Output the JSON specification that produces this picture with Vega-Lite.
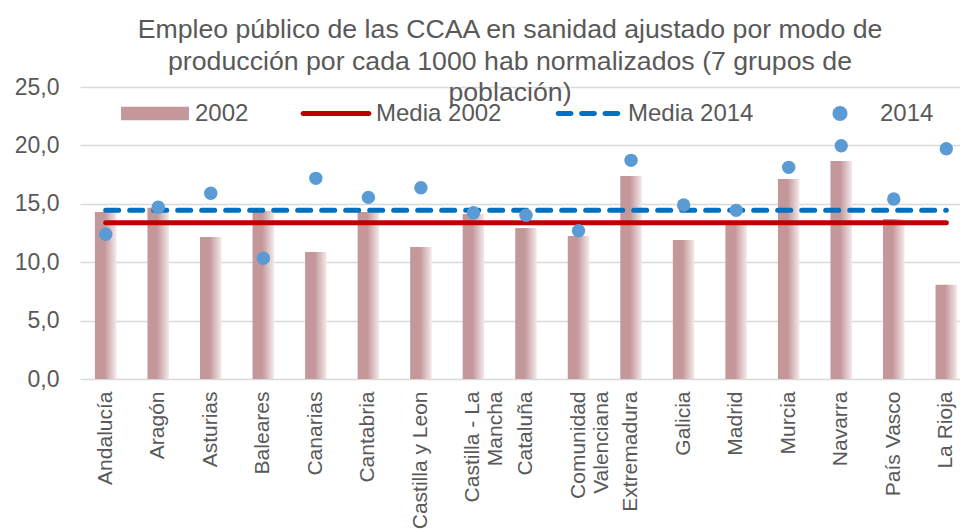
{
  "$schema": "https://vega.github.io/schema/vega-lite/v6.json",
  "autosize": {"type": "none"},
  "width": 880,
  "height": 292,
  "padding": {"left": 80, "top": 87, "right": 0, "bottom": 150},
  "background": "white",
  "config": {
    "view": {"stroke": null},
    "font": "Liberation Sans",
    "locale": {"number": {"decimal": ",", "thousands": ".", "grouping": [3], "currency": ["", " €"]}}
  },
  "title": {
    "text": ["Empleo público de las CCAA en sanidad ajustado por modo de", "producción por cada 1000 hab normalizados (7 grupos de", "población)"],
    "fontSize": 26.7,
    "fontWeight": "normal",
    "color": "#595959",
    "font": "Liberation Sans",
    "anchor": "middle",
    "lineHeight": 31.5,
    "baseline": "top",
    "offset": -31,
    "dx": -10
  },
  "data": {
    "values": [
      {"ccaa": "Andalucía", "v2002": 14.3, "v2014": 12.4, "m2002": 13.38, "m2014": 14.44},
      {"ccaa": "Aragón", "v2002": 14.67, "v2014": 14.7, "m2002": 13.38, "m2014": 14.44},
      {"ccaa": "Asturias", "v2002": 12.16, "v2014": 15.9, "m2002": 13.38, "m2014": 14.44},
      {"ccaa": "Baleares", "v2002": 14.38, "v2014": 10.34, "m2002": 13.38, "m2014": 14.44},
      {"ccaa": "Canarias", "v2002": 10.88, "v2014": 17.18, "m2002": 13.38, "m2014": 14.44},
      {"ccaa": "Cantabria", "v2002": 14.3, "v2014": 15.55, "m2002": 13.38, "m2014": 14.44},
      {"ccaa": "Castilla y Leon", "v2002": 11.31, "v2014": 16.38, "m2002": 13.38, "m2014": 14.44},
      {"ccaa": "Castilla - La Mancha", "v2002": 14.13, "v2014": 14.24, "m2002": 13.38, "m2014": 14.44},
      {"ccaa": "Cataluña", "v2002": 12.93, "v2014": 14.02, "m2002": 13.38, "m2014": 14.44},
      {"ccaa": "Comunidad Valenciana", "v2002": 12.25, "v2014": 12.7, "m2002": 13.38, "m2014": 14.44},
      {"ccaa": "Extremadura", "v2002": 17.38, "v2014": 18.72, "m2002": 13.38, "m2014": 14.44},
      {"ccaa": "Galicia", "v2002": 11.9, "v2014": 14.9, "m2002": 13.38, "m2014": 14.44},
      {"ccaa": "Madrid", "v2002": 13.4, "v2014": 14.44, "m2002": 13.38, "m2014": 14.44},
      {"ccaa": "Murcia", "v2002": 17.12, "v2014": 18.12, "m2002": 13.38, "m2014": 14.44},
      {"ccaa": "Navarra", "v2002": 18.66, "v2014": 19.97, "m2002": 13.38, "m2014": 14.44},
      {"ccaa": "País Vasco", "v2002": 13.7, "v2014": 15.41, "m2002": 13.38, "m2014": 14.44},
      {"ccaa": "La Rioja", "v2002": 8.06, "v2014": 19.71, "m2002": 13.38, "m2014": 14.44}
    ]
  },
  "encoding": {
    "x": {
      "field": "ccaa",
      "type": "nominal",
      "sort": null,
      "scale": {"range": [0, 892], "paddingInner": 0.59, "paddingOuter": 0.284},
      "axis": {
        "title": null,
        "domain": false,
        "ticks": false,
        "labelAngle": -90,
        "labelFontSize": 21,
        "labelColor": "#595959",
        "labelFont": "Liberation Sans",
        "labelPadding": 12,
        "labelLineHeight": 23,
        "labelLimit": 300,
        "labelExpr": "datum.label == 'Castilla - La Mancha' ? ['Castilla - La', 'Mancha'] : datum.label == 'Comunidad Valenciana' ? ['Comunidad', 'Valenciana'] : datum.label"
      }
    }
  },
  "layer": [
    {
      "mark": {
        "type": "bar",
        "color": {
          "gradient": "linear",
          "x1": 0, "y1": 0, "x2": 1, "y2": 0,
          "stops": [
            {"offset": 0, "color": "#C4979B"},
            {"offset": 0.45, "color": "#C4979B"},
            {"offset": 1, "color": "#F3EAEB"}
          ]
        }
      },
      "encoding": {
        "y": {
          "field": "v2002",
          "type": "quantitative",
          "scale": {"domain": [0, 25], "nice": false},
          "axis": {
            "title": null,
            "values": [0, 5, 10, 15, 20, 25],
            "format": ".1f",
            "domain": false,
            "ticks": false,
            "grid": true,
            "gridColor": "#D9D9D9",
            "gridWidth": 1.3,
            "labelFontSize": 23,
            "labelColor": "#595959",
            "labelFont": "Liberation Sans",
            "labelPadding": 21
          }
        }
      }
    },
    {
      "mark": {"type": "point", "filled": true, "opacity": 0},
      "encoding": {
        "y": {"field": "v2014", "type": "quantitative"},
        "color": {
          "datum": "2014",
          "type": "nominal",
          "scale": {
            "domain": ["2002", "Media 2002", "Media 2014", "2014"],
            "range": ["#C4979B", "#C00000", "#0070C0", "#5B9BD5"]
          },
          "legend": {
            "title": null,
            "orient": "none",
            "direction": "horizontal",
            "legendX": 40,
            "legendY": -8.5,
            "columnPadding": 51,
            "labelFontSize": 24,
            "labelColor": "#595959",
            "labelFont": "Liberation Sans",
            "labelOffset": 5,
            "symbolSize": 4900,
            "symbolOpacity": 1,
            "symbolStrokeWidth": 0,
            "labelLimit": 300
          }
        },
        "shape": {
          "datum": "2014",
          "type": "nominal",
          "scale": {
            "domain": ["2002", "Media 2002", "Media 2014", "2014"],
            "range": [
              "M-0.97,-0.19H0.97V0.19H-0.97Z",
              "M-0.94,-0.0714H0.94A0.0714,0.0714 0 0 1 0.94,0.0714H-0.94A0.0714,0.0714 0 0 1 -0.94,-0.0714Z",
              "M-0.851,-0.0714H-0.487A0.0714,0.0714 0 0 1 -0.487,0.0714H-0.851A0.0714,0.0714 0 0 1 -0.851,-0.0714ZM-0.182,-0.0714H0.182A0.0714,0.0714 0 0 1 0.182,0.0714H-0.182A0.0714,0.0714 0 0 1 -0.182,-0.0714ZM0.487,-0.0714H0.851A0.0714,0.0714 0 0 1 0.851,0.0714H0.487A0.0714,0.0714 0 0 1 0.487,-0.0714Z",
              "M-0.214,0A0.214,0.214 0 1 0 0.214,0A0.214,0.214 0 1 0 -0.214,0Z"
            ]
          },
          "legend": {
            "title": null,
            "orient": "none",
            "direction": "horizontal",
            "legendX": 40,
            "legendY": -8.5,
            "columnPadding": 51,
            "labelFontSize": 24,
            "labelColor": "#595959",
            "labelFont": "Liberation Sans",
            "labelOffset": 5,
            "symbolSize": 4900,
            "symbolOpacity": 1,
            "symbolStrokeWidth": 0,
            "labelLimit": 300
          }
        }
      }
    },
    {
      "mark": {"type": "line", "strokeWidth": 5, "strokeCap": "round", "color": "#C00000"},
      "encoding": {
        "y": {"field": "m2002", "type": "quantitative"}
      }
    },
    {
      "mark": {"type": "line", "strokeWidth": 5, "strokeCap": "round", "strokeDash": [13, 11], "color": "#0070C0"},
      "encoding": {
        "y": {"field": "m2014", "type": "quantitative"}
      }
    },
    {
      "mark": {"type": "point", "filled": true, "size": 180, "opacity": 1, "color": "#5B9BD5"},
      "encoding": {
        "y": {"field": "v2014", "type": "quantitative"}
      }
    }
  ]
}
